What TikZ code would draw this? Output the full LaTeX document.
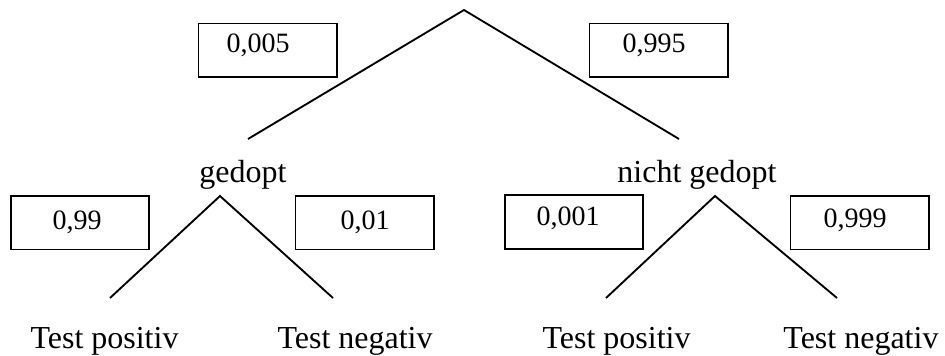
\documentclass[tikz,border=0pt]{standalone}
\usepackage{fontspec}
\setmainfont{Liberation Serif}
\begin{document}
\begin{tikzpicture}[x=0.375pt,y=-0.375pt,
	every node/.style={font=\fontsize{12}{14}\selectfont},
	probbox/.style={draw, line width=0.7pt, minimum width=51.8pt, minimum height=20.2pt, inner sep=0pt},
	problabel/.style={anchor=base, font=\fontsize{10.5}{12}\selectfont},
	leaf/.style={inner sep=0pt},
	branch/.style={line width=0.7pt}]
	\useasboundingbox (0,0) rectangle (945,356);
	% first level
	\coordinate (root) at (464,10);
	\coordinate (gEnd) at (248,139);
	\coordinate (nEnd) at (679,139);
	\draw[branch] (gEnd) -- (root) -- (nEnd);
	\node[anchor=base] (gedopt) at (243,183) {gedopt};
	\node[anchor=base] (nicht) at (697,183) {nicht gedopt};
	\node[probbox] (p1) at (267.5,50.5) {};
	\node[problabel] (p1t) at (258,53) {0,005};
	\node[probbox] (p2) at (658.5,50.5) {};
	\node[problabel] (p2t) at (654,53) {0,995};
	% second level
	\coordinate (gTop) at (220,196);
	\coordinate (gL) at (110,298);
	\coordinate (gR) at (333,298);
	\draw[branch] (gL) -- (gTop) -- (gR);
	\coordinate (nTop) at (715,196);
	\coordinate (nL) at (606,298);
	\coordinate (nR) at (837,298);
	\draw[branch] (nL) -- (nTop) -- (nR);
	\node[probbox] (p3) at (80,222.5) {};
	\node[problabel] (p3t) at (77,229) {0,99};
	\node[probbox] (p4) at (364.5,222.5) {};
	\node[problabel] (p4t) at (365,229) {0,01};
	\node[probbox] (p5) at (574,222) {};
	\node[problabel] (p5t) at (568,226) {0,001};
	\node[probbox] (p6) at (859.5,222.5) {};
	\node[problabel] (p6t) at (855,227) {0,999};
	% leaves
	\node[leaf, anchor=base west] (gpos) at (30,348) {Test positiv};
	\node[leaf, anchor=base west] (gneg) at (277,348) {Test negativ};
	\node[leaf, anchor=base west] (npos) at (542,348) {Test positiv};
	\node[leaf, anchor=base east] (nneg) at (939,348) {Test negativ};
\end{tikzpicture}
\end{document}
